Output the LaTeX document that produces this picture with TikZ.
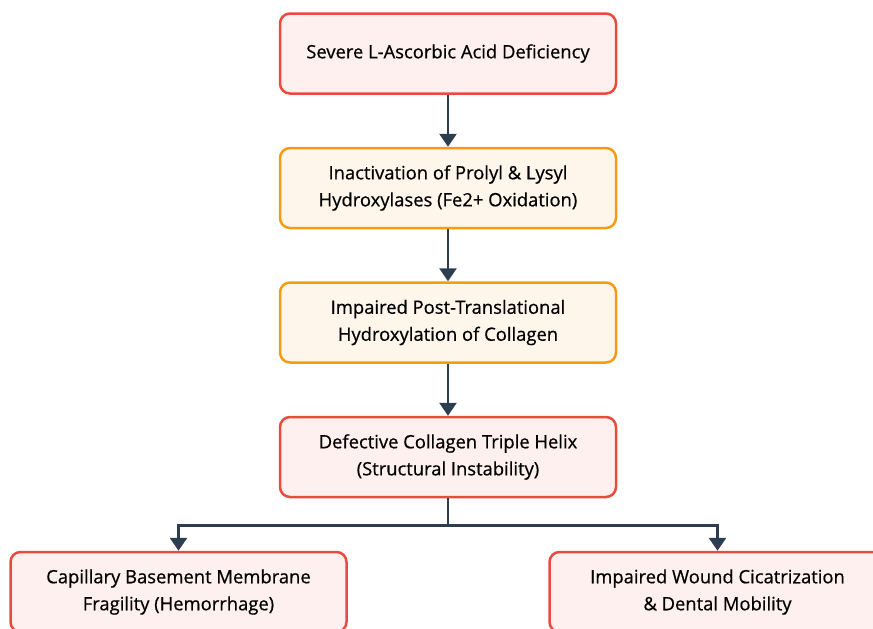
\documentclass[tikz,border=0pt]{standalone}
\usepackage{fontspec}
\setmainfont{Open Sans}[FakeBold=0.6]
\usetikzlibrary{positioning,arrows.meta}
\definecolor{redline}{HTML}{E74C3C}
\definecolor{redfill}{HTML}{FDF0EF}
\definecolor{orangeline}{HTML}{F39C12}
\definecolor{orangefill}{HTML}{FEF6EA}
\definecolor{linkcol}{HTML}{2C3E50}
\tikzstyle{stage}=[rounded corners=10pt,line width=2.5pt,minimum width=336pt,minimum height=80pt,align=center,inner sep=0pt]
\tikzstyle{redbox}=[stage,draw=redline,fill=redfill]
\tikzstyle{orangebox}=[stage,draw=orangeline,fill=orangefill]
\tikzstyle{link}=[linkcol,line width=2.8pt,-{Triangle[width=17pt,length=13pt]}]

\begin{document}
\begin{tikzpicture}[x=1pt,y=1pt,font=\fontsize{18.4}{27}\selectfont]
\useasboundingbox (0,0) rectangle (873,-629);
\node[redbox] (lack) at (448,-53.5) {Severe L-Ascorbic Acid Deficiency};
\node[orangebox,below=52pt of lack] (enz) {Inactivation of Prolyl \& Lysyl\\Hydroxylases (Fe2+ Oxidation)};
\node[orangebox,below=52pt of enz] (hydrox) {Impaired Post-Translational\\Hydroxylation of Collagen};
\node[redbox,below=52pt of hydrox] (helix) {Defective Collagen Triple Helix\\(Structural Instability)};
\node[redbox] (bleed) at (178.5,-592) {Capillary Basement Membrane\\Fragility (Hemorrhage)};
\node[redbox] (wound) at (717.5,-592) {Impaired Wound Cicatrization\\\& Dental Mobility};
% main chain
\draw[link] (lack) -- (enz);
\draw[link] (enz) -- (hydrox);
\draw[link] (hydrox) -- (helix);
% split into the two outcomes
\draw[link] (helix.south) -- ++(0,-27) -| (bleed.north);
\draw[link] (helix.south) -- ++(0,-27) -| (wound.north);
\end{tikzpicture}
\end{document}
